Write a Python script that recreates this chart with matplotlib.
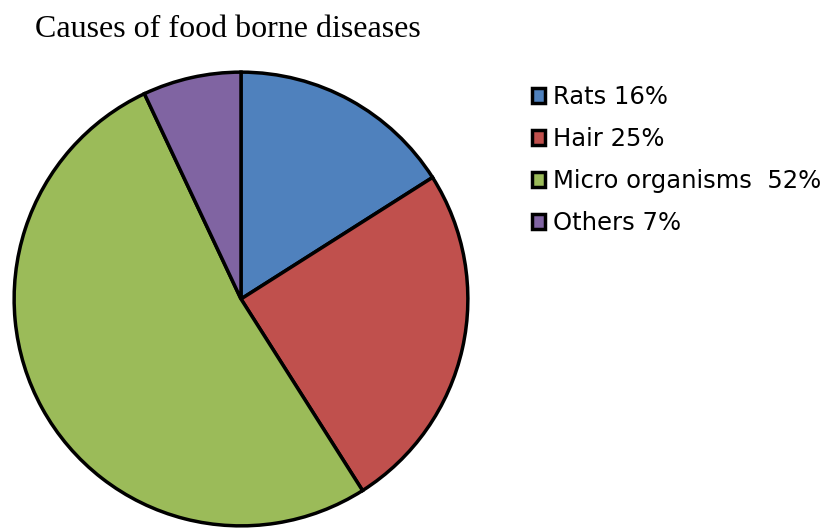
import matplotlib.pyplot as plt

labels = ['Rats 16%', 'Hair 25%', 'Micro organisms  52%', 'Others 7%']
shares = [16, 25, 52, 7]
colors = ['#4F81BD', '#C0504D', '#9BBB59', '#8064A2']

fig = plt.figure(figsize=(8.26, 5.29), dpi=100)
ax = fig.add_axes([13 / 826, 2 / 529, 456 / 826, 456 / 529])

wedges, _ = ax.pie(shares, colors=colors, startangle=90, counterclock=False,
                   wedgeprops=dict(edgecolor='black', linewidth=2.5))
ax.set_xlim(-1.005, 1.005)
ax.set_ylim(-1.005, 1.005)
ax.set_aspect('equal')

fig.text(35 / 826, 1 - 37 / 529, 'Causes of food borne diseases',
         family='Liberation Serif', fontsize=23, va='baseline', ha='left')

fig.legend(wedges, labels, loc='upper left', bbox_to_anchor=(532 / 826, 1 - 85 / 529),
           frameon=False, prop=dict(family='DejaVu Sans', size=17.5),
           handlelength=0.55, handleheight=0.55, handletextpad=0.3,
           labelspacing=0.74, borderaxespad=0, borderpad=0)

fig.savefig('out.png', dpi=100)
